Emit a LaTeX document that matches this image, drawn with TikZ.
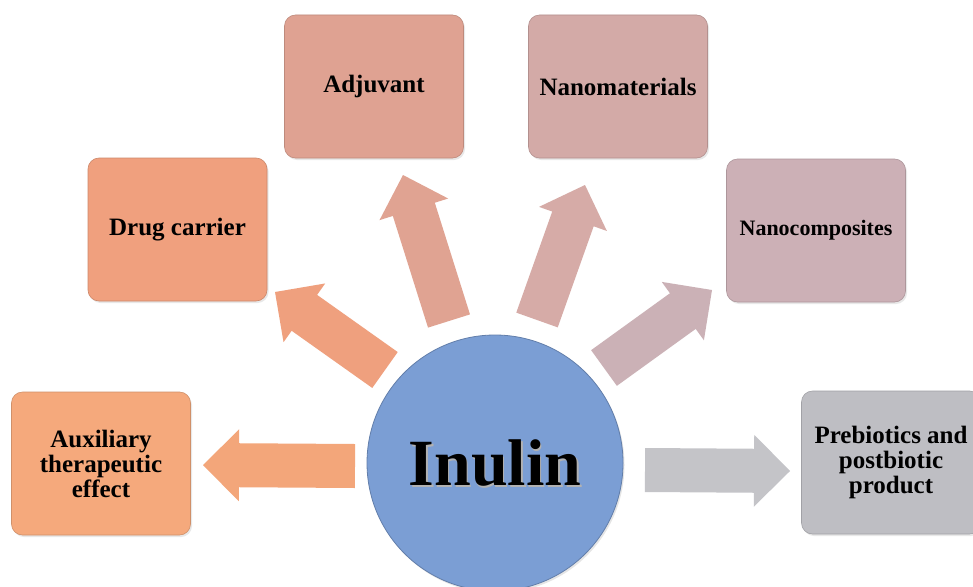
\documentclass[tikz,border=0pt]{standalone}
\usepackage{fontspec}
\setmainfont{Liberation Serif}
\usetikzlibrary{calc,shadows}
\definecolor{cAux}{HTML}{F5A97C}
\definecolor{cDrug}{HTML}{F0A07E}
\definecolor{cAdj}{HTML}{DFA292}
\definecolor{cMat}{HTML}{D3AAA7}
\definecolor{cComp}{HTML}{CCB0B6}
\definecolor{cPre}{HTML}{BEBEC3}
\definecolor{cCirc}{HTML}{7B9ED4}
\definecolor{aAux}{HTML}{F3A67A}
\definecolor{aDrug}{HTML}{EFA07E}
\definecolor{aAdj}{HTML}{E0A392}
\definecolor{aMat}{HTML}{D6ABA7}
\definecolor{aComp}{HTML}{CBB1B6}
\definecolor{aPre}{HTML}{C4C4C8}
\newcommand\blockarrow[3]{%
  \coordinate (hb) at ($(#3)!36pt!(#2)$);
  \fill[#1] ($(#2)!22pt!90:(#3)$) -- ($(hb)!22pt!90:(#3)$) -- ($(hb)!36pt!90:(#3)$)
    -- (#3) -- ($(hb)!36pt!-90:(#3)$) -- ($(hb)!22pt!-90:(#3)$) -- ($(#2)!22pt!-90:(#3)$) -- cycle;}
\tikzset{
  box/.style={rectangle, rounded corners=11pt, fill=#1, draw=#1!85!black, line width=0.6pt,
    minimum width=179pt, minimum height=143pt, inner sep=0pt, align=center,
    font=\fontsize{25}{25}\selectfont\bfseries,
    drop shadow={opacity=0.18, shadow xshift=1.5pt, shadow yshift=-2pt}},
}
\begin{document}
\begin{tikzpicture}[x=1pt,y=-1pt]
\useasboundingbox (0,0) rectangle (973,586);
\clip (0,0) rectangle (973,586);
\fill[white] (0,0) rectangle (973,586);
% boxes
\node[box=cAux]  (aux)  at (101,463.5) {Auxiliary\\therapeutic\\effect};
\node[box=cDrug] (drug) at (177.5,229.5) {Drug carrier};
\node[box=cAdj]  (adj)  at (374,86.5) {Adjuvant};
\node[box=cMat]  (mat)  at (618,86.5) {Nanomaterials};
\node[box=cComp, font=\fontsize{22}{24}\selectfont\bfseries] (comp) at (816,230.5) {Nanocomposites};
\node[box=cPre]  (pre)  at (891,462.5) {Prebiotics and\\postbiotic\\product};
% arrow end points
\coordinate (s1) at (355,466); \coordinate (e1) at (203,465);
\coordinate (s2) at (385,370); \coordinate (e2) at (275,292);
\coordinate (s3) at (449,321); \coordinate (e3) at (403,175);
\coordinate (s4) at (537,320); \coordinate (e4) at (585,185);
\coordinate (s5) at (604,368); \coordinate (e5) at (712,290);
\coordinate (s6) at (645,470); \coordinate (e6) at (790,471);
\blockarrow{aAux}{s1}{e1}
\blockarrow{aDrug}{s2}{e2}
\blockarrow{aAdj}{s3}{e3}
\blockarrow{aMat}{s4}{e4}
\blockarrow{aComp}{s5}{e5}
\blockarrow{aPre}{s6}{e6}
% centre
\node[circle, minimum size=256pt, inner sep=0pt, fill=cCirc, draw=cCirc!80!black, line width=0.8pt,
  drop shadow={opacity=0.2, shadow xshift=1.5pt, shadow yshift=-2pt}] (inulin) at (495,463) {};
\node[font=\fontsize{66}{66}\selectfont\bfseries, text=black!30, xshift=1.5pt, yshift=-1.5pt] at (inulin.center) {Inulin};
\node[font=\fontsize{66}{66}\selectfont\bfseries] (lbl) at (inulin.center) {Inulin};
\end{tikzpicture}
\end{document}
